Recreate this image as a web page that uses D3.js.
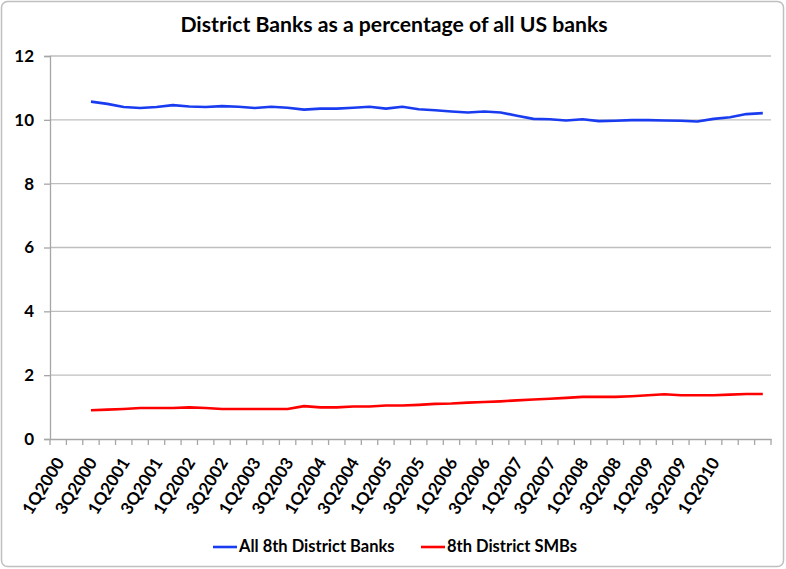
<!DOCTYPE html>
<html><head><meta charset="utf-8">
<script src="https://cdn.jsdelivr.net/npm/d3@7"></script>
<style>body{margin:0;background:#fff}svg{display:block}</style>
</head><body>
<script>
const years = d3.range(2000, 2011);
const categories = years.flatMap(y => [1,2,3,4].map(q => q + "Q" + y));
const tickLabels = ["1Q2000","3Q2000","1Q2001","3Q2001","1Q2002","3Q2002","1Q2003","3Q2003","1Q2004","3Q2004","1Q2005","3Q2005","1Q2006","3Q2006","1Q2007","3Q2007","1Q2008","3Q2008","1Q2009","3Q2009","1Q2010"];
const dataCategories = categories.slice(2);
const allBanks = [10.57,10.5,10.4,10.37,10.4,10.46,10.42,10.4,10.43,10.41,10.37,10.41,10.38,10.32,10.35,10.35,10.38,10.41,10.35,10.41,10.33,10.3,10.26,10.23,10.26,10.23,10.13,10.03,10.02,9.98,10.02,9.96,9.97,9.99,9.99,9.98,9.97,9.95,10.03,10.08,10.18,10.21];
const smbs = [0.9,0.92,0.94,0.97,0.97,0.97,0.99,0.97,0.94,0.94,0.94,0.94,0.94,1.03,0.99,0.99,1.02,1.02,1.05,1.05,1.07,1.1,1.11,1.14,1.16,1.18,1.21,1.24,1.26,1.29,1.32,1.32,1.32,1.34,1.37,1.4,1.37,1.37,1.37,1.39,1.41,1.41];
const yTicks = [0,2,4,6,8,10,12];
const seriesNames = ["All 8th District Banks","8th District SMBs"];
const colors = ["#1a3cf0","#ff0000"];

const W = 786, H = 569;
const m = {left:50, right:15, top:56, bottom:130};
const font = "Lato, 'Open Sans', sans-serif";
const svg = d3.select("body").append("svg").attr("width", W).attr("height", H);
svg.append("rect").attr("x",1.5).attr("y",1.5).attr("width",W-4).attr("height",H-4).attr("rx",6)
  .attr("fill","#fff").attr("stroke","#bfbfbf").attr("stroke-width",1.5);

const x = d3.scaleBand().domain(categories).range([m.left, W - m.right]).paddingInner(0).paddingOuter(0);
const y = d3.scaleLinear().domain([0,12]).range([H - m.bottom, m.top]);

// gridlines
svg.append("g").selectAll("line").data(yTicks.filter(d=>d>0)).join("line")
  .attr("x1", m.left).attr("x2", W - m.right)
  .attr("y1", d => y(d)).attr("y2", d => y(d))
  .attr("stroke","#bfbfbf").attr("stroke-width",1.3);

// y axis
const ya = svg.append("g").attr("transform",`translate(${m.left},0)`)
  .call(d3.axisLeft(y).tickValues(yTicks).tickSize(6).tickPadding(10));
ya.select(".domain").attr("stroke","#a6a6a6").attr("stroke-width",1.3);
ya.selectAll(".tick line").attr("stroke","#a6a6a6").attr("stroke-width",1.3);
ya.selectAll("text").attr("font-family",font).attr("font-weight","bold").attr("font-size",17).attr("fill","#000");

// x axis
const xa = svg.append("g").attr("transform",`translate(0,${y(0)})`)
  .call(d3.axisBottom(x).tickValues([]).tickSizeOuter(0));
xa.select(".domain").attr("stroke","#a6a6a6").attr("stroke-width",1.3);
xa.append("g").selectAll("line").data(categories.concat(["__end"])).join("line")
  .attr("x1", (d,i) => m.left + i * x.bandwidth()).attr("x2", (d,i) => m.left + i * x.bandwidth())
  .attr("y1",0).attr("y2",6).attr("stroke","#a6a6a6").attr("stroke-width",1.3);
xa.append("g").selectAll("text").data(tickLabels).join("text")
  .attr("transform", d => `translate(${x(d) + x.bandwidth()/2 + 3},${21}) rotate(-58)`)
  .attr("text-anchor","end").attr("dominant-baseline","middle")
  .attr("font-family",font).attr("font-weight","bold").attr("font-size",17).attr("fill","#000")
  .text(d => d);

// lines
const line = d3.line().x((d,i) => x(dataCategories[i]) + x.bandwidth()/2).y(d => y(d));
[allBanks, smbs].forEach((s, k) => {
  svg.append("path").datum(s).attr("d", line).attr("fill","none")
    .attr("stroke", colors[k]).attr("stroke-width",2.6).attr("stroke-linejoin","round");
});

// title
svg.append("text").attr("x", 394).attr("y", 32).attr("text-anchor","middle")
  .attr("font-family",font).attr("font-weight","bold").attr("font-size",21.2).attr("fill","#000")
  .text("District Banks as a percentage of all US banks");

// legend
const lg = svg.append("g");
const legX = [213, 421];
seriesNames.forEach((n,k) => {
  lg.append("line").attr("x1",legX[k]).attr("x2",legX[k]+24).attr("y1",547).attr("y2",547)
    .attr("stroke",colors[k]).attr("stroke-width",2.6);
  lg.append("text").attr("x",legX[k]+26).attr("y",548).attr("dominant-baseline","middle")
    .attr("font-family",font).attr("font-weight","bold").attr("font-size",16.5).attr("fill","#000").text(n);
});
</script>
</body></html>
